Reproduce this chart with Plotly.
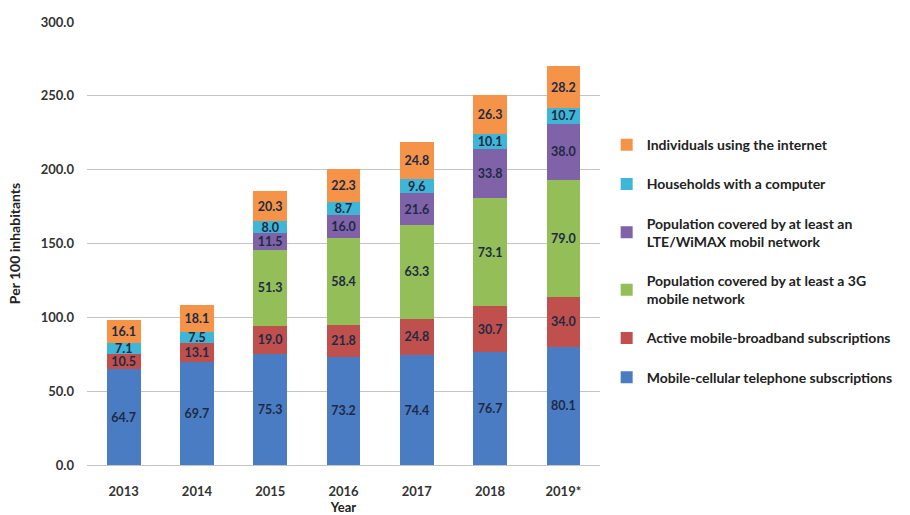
import plotly.graph_objects as go

years = ["2013", "2014", "2015", "2016", "2017", "2018", "2019*"]

mobile_cellular = [64.7, 69.7, 75.3, 73.2, 74.4, 76.7, 80.1]
mobile_broadband = [10.5, 13.1, 19.0, 21.8, 24.8, 30.7, 34.0]
coverage_3g = [None, None, 51.3, 58.4, 63.3, 73.1, 79.0]
coverage_lte = [None, None, 11.5, 16.0, 21.6, 33.8, 38.0]
households_computer = [7.1, 7.5, 8.0, 8.7, 9.6, 10.1, 10.7]
individuals_internet = [16.1, 18.1, 20.3, 22.3, 24.8, 26.3, 28.2]

series = [
    ("Mobile-cellular telephone subscriptions", mobile_cellular, "#4A7CC4"),
    ("Active mobile-broadband subscriptions", mobile_broadband, "#C0504D"),
    ("Population covered by at least a 3G<br>mobile network", coverage_3g, "#93BE58"),
    ("Population covered by at least an<br>LTE/WiMAX mobil network", coverage_lte, "#7F62A8"),
    ("Households with a computer", households_computer, "#3FB6D6"),
    ("Individuals using the internet", individuals_internet, "#F59448"),
]

FONT = "Lato"
LABEL_COLOR = "#1E2A44"

fig = go.Figure()
for i, (name, values, color) in enumerate(series):
    fig.add_trace(go.Bar(
        x=years,
        y=values,
        name=name,
        legendgroup=f"g{i}",
        legendrank=len(series) - i,
        marker=dict(color=color, line=dict(width=0)),
        text=values,
        texttemplate="%{y:.1f}",
        textposition="inside",
        insidetextanchor="middle",
        textangle=0,
        textfont=dict(family=FONT, size=12.5, color=LABEL_COLOR, weight="bold"),
        cliponaxis=False,
    ))

fig.update_layout(
    barmode="stack",
    bargap=0.54,
    width=910,
    height=515,
    margin=dict(l=87, r=305, t=22, b=50),
    paper_bgcolor="white",
    plot_bgcolor="white",
    font=dict(family=FONT, color="#333333"),
    uniformtext=dict(minsize=12.5, mode="show"),
    yaxis=dict(
        range=[0, 300],
        tickvals=[0, 50, 100, 150, 200, 250, 300],
        tickformat=".1f",
        automargin=False,
        showgrid=True,
        gridcolor="#C4C4C4",
        gridwidth=1,
        zeroline=True,
        zerolinecolor="#C4C4C4",
        zerolinewidth=1,
        showline=False,
        ticks="",
        ticklabelstandoff=12,
        tickfont=dict(family=FONT, size=13, color="#333333", weight="bold"),
        title=dict(text="Per 100 inhabitants", standoff=16,
                   font=dict(family=FONT, size=14, color="#222222", weight="bold")),
    ),
    xaxis=dict(
        automargin=False,
        showgrid=False,
        showline=False,
        ticks="",
        ticklabelstandoff=17,
        tickfont=dict(family=FONT, size=13, color="#333333", weight="bold"),
        title=dict(text="Year", standoff=13,
                   font=dict(family=FONT, size=13, color="#222222", weight="bold")),
    ),
    legend=dict(
        x=1.013,
        y=0.758,
        xanchor="left",
        yanchor="top",
        traceorder="grouped",
        tracegroupgap=18,
        itemwidth=30,
        font=dict(family=FONT, size=14, color="#222222", weight="bold"),
        bgcolor="rgba(0,0,0,0)",
    ),
)

fig.write_html("out.html")
